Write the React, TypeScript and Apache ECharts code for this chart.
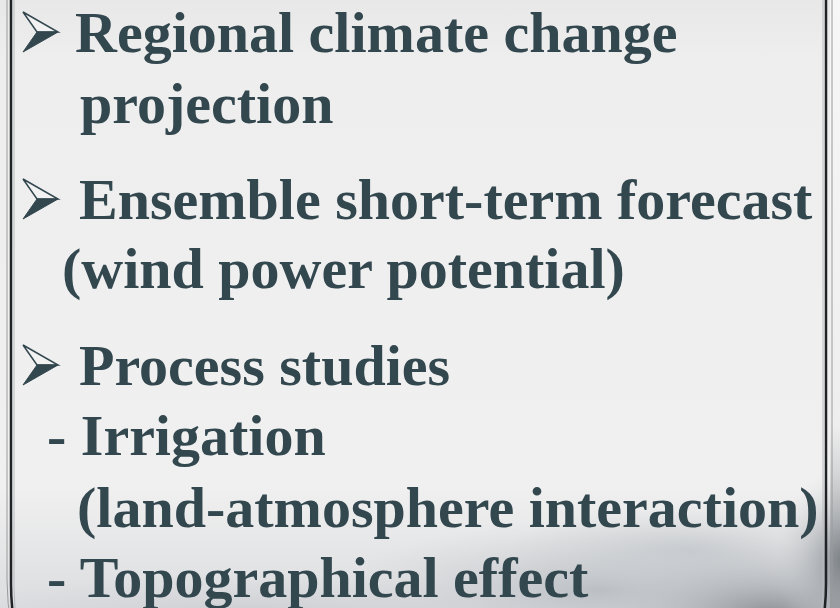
import React, { useEffect, useRef } from "react";
import * as echarts from "echarts";

// Slide text content
const lineTexts = [
  "Regional climate change",
  "projection",
  "Ensemble short-term forecast",
  "(wind power potential)",
  "Process studies",
  "- Irrigation",
  "(land-atmosphere interaction)",
  "- Topographical effect",
];
// which lines carry an arrow bullet
const bulletLines = [true, false, true, false, true, false, false, false];
// baselines and left edges
const lineBaselines = [52, 123, 219, 288, 385, 455, 527, 597];
const lineLefts = [75, 80, 79, 62, 79, 47, 77, 47];

const TEXT_COLOR = "#33474f";
const FONT_SIZE = 58;

export default function App() {
  const ref = useRef<HTMLDivElement>(null);
  useEffect(() => {
    document.body.style.margin = "0";
    const chart = echarts.init(ref.current!, null, { renderer: "svg" });
    const elements: any[] = [];

    // background
    elements.push({
      type: "rect",
      shape: { x: 0, y: 0, width: 840, height: 608 },
      style: {
        fill: new echarts.graphic.LinearGradient(0, 0, 0, 1, [
          { offset: 0, color: "#e8e8e8" },
          { offset: 0.1, color: "#eeeeee" },
          { offset: 0.8, color: "#f0f0f0" },
          { offset: 1, color: "#dcdde0" },
        ]),
      },
      silent: true,
    });
    // right margin outside frame
    elements.push({
      type: "rect",
      shape: { x: 830, y: 0, width: 10, height: 608 },
      style: {
        fill: new echarts.graphic.LinearGradient(0, 0, 0, 1, [
          { offset: 0, color: "#f7f7f7" },
          { offset: 0.7, color: "#eeeeee" },
          { offset: 1, color: "#8e9296" },
        ]),
      },
      silent: true,
    });
    // clouds at the bottom
    const clouds = [
      { cx: 600, cy: 590, rx: 260, ry: 70, c: "rgba(175,180,186,0.75)" },
      { cx: 690, cy: 550, rx: 180, ry: 45, c: "rgba(185,190,195,0.6)" },
      { cx: 770, cy: 615, rx: 180, ry: 75, c: "rgba(125,131,137,0.85)" },
      { cx: 845, cy: 560, rx: 70, ry: 90, c: "rgba(110,116,122,0.85)" },
      { cx: 250, cy: 618, rx: 300, ry: 45, c: "rgba(190,194,199,0.6)" },
    ];
    clouds.forEach((cl) => {
      elements.push({
        type: "ellipse",
        shape: { cx: cl.cx, cy: cl.cy, rx: cl.rx, ry: cl.ry },
        style: {
          fill: new echarts.graphic.RadialGradient(0.5, 0.5, 0.5, [
            { offset: 0, color: cl.c },
            { offset: 1, color: "rgba(200,203,206,0)" },
          ]),
        },
        silent: true,
      });
    });

    // frame: outer light line, dark line, inner light line
    elements.push({
      type: "rect",
      shape: { x: 7, y: -260, width: 825, height: 1080, r: 240 },
      style: { fill: "none", stroke: "#9a9a9a", lineWidth: 1 },
      silent: true,
    });
    elements.push({
      type: "rect",
      shape: { x: 11, y: -260, width: 815, height: 1080, r: 236 },
      style: { fill: "none", stroke: "#1f2326", lineWidth: 2.5 },
      silent: true,
    });
    elements.push({
      type: "rect",
      shape: { x: 14, y: -260, width: 809, height: 1080, r: 233 },
      style: { fill: "none", stroke: "#b8bcbf", lineWidth: 1 },
      silent: true,
    });

    lineTexts.forEach((t, i) => {
      const base = lineBaselines[i];
      if (bulletLines[i]) {
        elements.push({
          type: "polygon",
          shape: { points: [[23, base - 40], [58, base - 20], [37, base - 20]] },
          style: { fill: "#f2f2f2", stroke: TEXT_COLOR, lineWidth: 1.5 },
          silent: true,
        });
        elements.push({
          type: "polygon",
          shape: { points: [[37, base - 20], [58, base - 20], [23, base]] },
          style: { fill: TEXT_COLOR, stroke: TEXT_COLOR, lineWidth: 1 },
          silent: true,
        });
      }
      elements.push({
        type: "text",
        x: lineLefts[i],
        y: base - FONT_SIZE * 0.3375,
        style: {
          text: t,
          fill: TEXT_COLOR,
          fontFamily: "Liberation Serif",
          fontWeight: "bold",
          fontSize: FONT_SIZE,
          textAlign: "left",
          textVerticalAlign: "middle",
        },
        silent: true,
      });
    });

    chart.setOption({ animation: false, graphic: { elements } });
    return () => chart.dispose();
  }, []);
  return <div ref={ref} style={{ width: 840, height: 608 }} />;
}
